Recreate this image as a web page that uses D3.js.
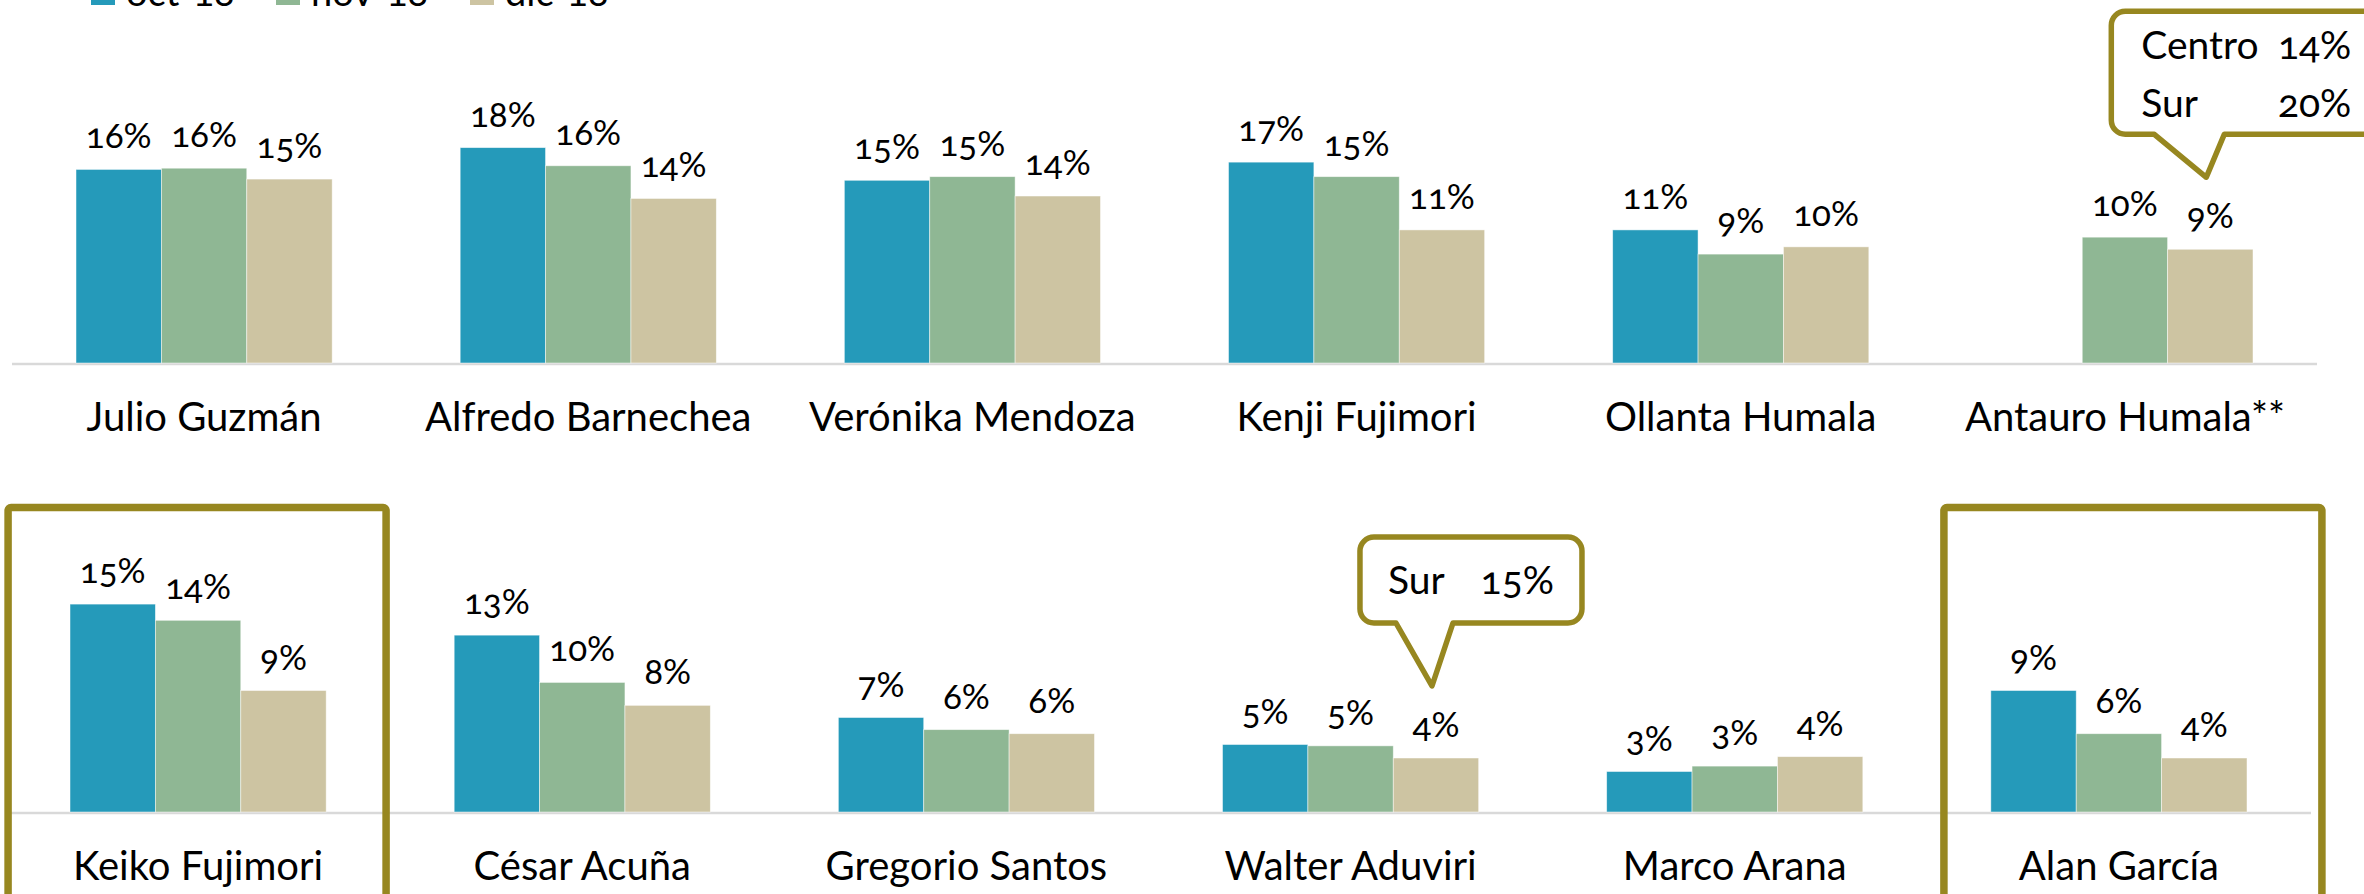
<!DOCTYPE html>
<html>
<head>
<meta charset="utf-8">
<script src="https://cdn.jsdelivr.net/npm/d3@7"></script>
<style>
  body { margin: 0; background: #fff; }
  svg text { font-family: Lato, "Noto Sans", sans-serif; fill: #000; font-variant-numeric: oldstyle-nums; }
</style>
</head>
<body>
<div id="chart"></div>
<script>
const W = 2364, H = 894;

const series = ["oct-18", "nov-18", "dic-18"];
const colors = ["#259aba", "#8fb794", "#cdc4a2"];
const OLIVE = "#978720";

// fila superior
const topNames = ["Julio Guzmán", "Alfredo Barnechea", "Verónika Mendoza", "Kenji Fujimori", "Ollanta Humala", "Antauro Humala**"];
const topOct = [16.0, 17.8, 15.1, 16.6, 11.0, null];
const topNov = [16.1, 16.3, 15.4, 15.4, 9.0, 10.4];
const topDic = [15.2, 13.6, 13.8, 11.0, 9.6, 9.4];

// fila inferior
const botNames = ["Keiko Fujimori", "César Acuña", "Gregorio Santos", "Walter Aduviri", "Marco Arana", "Alan García"];
const botOct = [15.4, 13.1, 7.0, 5.0, 3.0, 9.0];
const botNov = [14.2, 9.6, 6.1, 4.9, 3.4, 5.8];
const botDic = [9.0, 7.9, 5.8, 4.0, 4.1, 4.0];

// llamadas (candidato, textos por linea)
const callouts = [
  { row: "top", name: "Antauro Humala**", lines: [["Centro", "14%"], ["Sur", "20%"]] },
  { row: "bot", name: "Walter Aduviri", lines: [["Sur", "15%"]] }
];
const highlighted = ["Keiko Fujimori", "Alan García"];

const svg = d3.select("#chart").append("svg")
    .attr("width", W).attr("height", H);

const fmt = v => d3.format(".0f")(v) + "%";

function drawRow(names, vals, opts) {
  const x0 = d3.scaleBand().domain(names).range([opts.x0, opts.x1]);
  const x1 = d3.scaleBand().domain(series).range([64, x0.bandwidth() - 64]);
  const y = d3.scaleLinear().domain([0, 20]).range([opts.base, opts.base - 20 * opts.pxPer]);
  const g = svg.append("g").attr("class", "row");

  const rows = names.map((n, i) => ({ name: n, vals: series.map((s, k) => ({ s, k, v: vals[k][i] })) }));

  g.append("line")
      .attr("x1", opts.x0).attr("x2", opts.x1)
      .attr("y1", opts.base + 1).attr("y2", opts.base + 1)
      .attr("stroke", "#d9d9d9").attr("stroke-width", 2.5);

  const grp = g.selectAll(".grp").data(rows).enter().append("g")
      .attr("class", "grp")
      .attr("transform", d => "translate(" + x0(d.name) + ",0)");

  const bars = grp.selectAll(".bar").data(d => d.vals.filter(e => e.v != null)).enter();
  bars.append("rect")
      .attr("class", "bar")
      .attr("x", d => x1(d.s))
      .attr("width", x1.bandwidth())
      .attr("y", d => y(d.v))
      .attr("height", d => y(0) - y(d.v))
      .attr("fill", d => colors[d.k])
      .attr("stroke", "#fff").attr("stroke-width", 0.8).attr("stroke-opacity", 0.6);
  bars.append("text")
      .attr("x", d => x1(d.s) + x1.bandwidth() / 2)
      .attr("y", d => y(d.v) - 21)
      .attr("text-anchor", "middle")
      .style("font-size", "35px")
      .text(d => fmt(d.v));

  grp.append("text")
      .attr("x", x0.bandwidth() / 2)
      .attr("y", opts.labelY)
      .attr("text-anchor", "middle")
      .style("font-size", "40px")
      .text(d => d.name);

  return { x0, x1, y, rows };
}

const topRow = drawRow(topNames, [topOct, topNov, topDic], { x0: 12, x1: 2317, base: 363, pxPer: 12.1, labelY: 431 });
const botRow = drawRow(botNames, [botOct, botNov, botDic], { x0: 6, x1: 2311, base: 812, pxPer: 13.5, labelY: 880 });

// recuadros de resaltado
highlighted.forEach((n, i) => {
  const cx = botRow.x0(n) + botRow.x0.bandwidth() / 2 + (i === 0 ? -1 : 14);
  svg.append("rect")
      .attr("x", cx - 189).attr("y", 507.5)
      .attr("width", 378).attr("height", 420)
      .attr("rx", 3)
      .attr("fill", "none").attr("stroke", OLIVE).attr("stroke-width", 7.5);
});

// globos de texto
callouts.forEach(c => {
  const r = c.row === "top" ? topRow : botRow;
  const idx = r.rows.findIndex(d => d.name === c.name);
  const vDic = r.rows[idx].vals[2].v;
  const tx = r.x0(c.name) + r.x1("dic-18") + r.x1.bandwidth() / 2 - 4;
  const ty = r.y(vDic) - 72;
  let L, R, T, B, b1, b2, textX, numX, baseY, lineH;
  if (c.row === "top") {
    L = tx - 95; R = tx + 190; T = ty - 166; B = ty - 43; b1 = tx - 52; b2 = tx + 18;
    textX = tx - 65; numX = tx + 145; baseY = ty - 118; lineH = 58;
  } else {
    L = tx - 72; R = tx + 150; T = ty - 149; B = ty - 63; b1 = tx - 36; b2 = tx + 21;
    textX = tx - 44; numX = tx + 122; baseY = ty - 92; lineH = 58;
  }
  const rr = 14;
  const p = d3.path();
  p.moveTo(L + rr, T);
  p.lineTo(R - rr, T);
  p.arcTo(R, T, R, T + rr, rr);
  p.lineTo(R, B - rr);
  p.arcTo(R, B, R - rr, B, rr);
  p.lineTo(b2, B);
  p.lineTo(tx, ty);
  p.lineTo(b1, B);
  p.lineTo(L + rr, B);
  p.arcTo(L, B, L, B - rr, rr);
  p.lineTo(L, T + rr);
  p.arcTo(L, T, L + rr, T, rr);
  p.closePath();
  svg.append("path").attr("d", p.toString())
      .attr("fill", "#fff").attr("stroke", OLIVE).attr("stroke-width", 5.5)
      .attr("stroke-linejoin", "round");
  c.lines.forEach((ln, j) => {
    svg.append("text").attr("x", textX).attr("y", baseY + j * lineH)
        .style("font-size", "39px").text(ln[0]);
    svg.append("text").attr("x", numX).attr("y", baseY + j * lineH)
        .attr("text-anchor", "end").style("font-size", "39px").text(ln[1]);
  });
});

// leyenda (cortada en el borde superior, como en el original)
const legX = [91, 276, 470];
const leg = svg.append("g").attr("class", "legend");
series.forEach((s, k) => {
  leg.append("rect").attr("x", legX[k]).attr("y", -19).attr("width", 24).attr("height", 24)
      .attr("fill", colors[k]);
  leg.append("text").attr("x", legX[k] + 35).attr("y", 6)
      .style("font-size", "38px").text(s);
});
</script>
</body>
</html>
